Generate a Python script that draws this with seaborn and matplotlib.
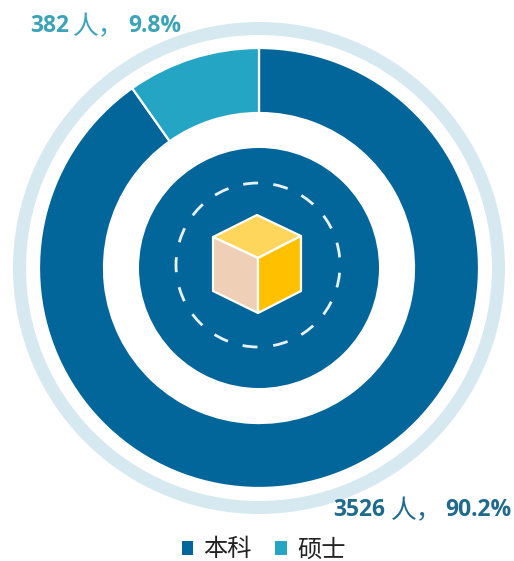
import matplotlib
matplotlib.use("Agg")
import matplotlib.pyplot as plt
import seaborn as sns
from matplotlib.patches import Circle, Polygon

categories = ["本科", "硕士"]
counts = [3526, 382]
percents = ["90.2%", "9.8%"]

DARK, LIGHT = "#03669B", "#25A5C4"
RING = "#D6E9F0"
TXT_DARK, TXT_LIGHT = "#1F6B8F", "#3BA4B8"

sns.set_theme(style="white")
plt.rcParams['font.family'] = ['Noto Sans CJK SC', 'DejaVu Sans']
palette = sns.color_palette([DARK, LIGHT])

W, H = 514, 561
fig = plt.figure(figsize=(W / 100, H / 100), dpi=100, facecolor="white")
ax = fig.add_axes([0, 0, 1, 1])
cx, cy = 259, H - 268

# outer pale ring
ax.add_patch(Circle((cx, cy), 239.5, fc="none", ec=RING, lw=13 * 0.72))

# main donut
wedges, _ = ax.pie(counts, colors=palette, startangle=90, counterclock=False,
                   radius=220, center=(cx, cy), frame=True,
                   wedgeprops=dict(width=65, edgecolor="white", linewidth=1.6))

# centre disc and dashed circle
ax.add_patch(Circle((cx, cy), 120, fc=DARK, ec="none"))
ax.add_patch(Circle((cx - 1, cy + 3), 82, fc="none", ec="#E6F2F6", lw=2.0,
                    linestyle=(5.4, (5.4, 5.5))))

# cube
def P(dx, dy):
    return (cx + dx, cy + dy)
top, tr, br, bot = P(-2, 53), P(42, 32), P(42, -23), P(-1, -45)
bl, tl, mid = P(-46, -23), P(-46, 31), P(-1, 10)
edge = dict(ec="white", lw=1.6, joinstyle="round")
ax.add_patch(Polygon([top, tr, mid, tl], fc="#FFD65C", **edge))
ax.add_patch(Polygon([tl, mid, bot, bl], fc="#EFD0B6", **edge))
ax.add_patch(Polygon([mid, tr, br, bot], fc="#FFC000", **edge))

# data labels
def label(x, y, idx, color):
    ax.text(x, H - y, str(counts[idx]), color=color, fontsize=16.5, fontweight="bold",
            ha="left", va="center", family=["Open Sans", "DejaVu Sans"])
    nx = x + len(str(counts[idx])) * 14.1 + 1
    ax.text(nx, H - y - 1, "人，", color=color, fontsize=18.5, fontweight="light",
            ha="left", va="center")
    ax.text(nx + 55, H - y, percents[idx], color=color, fontsize=16.5, fontweight="bold",
            ha="left", va="center", family=["Open Sans", "DejaVu Sans"])

label(30, 26, 1, TXT_LIGHT)
label(333, 510, 0, TXT_DARK)

leg = ax.legend(wedges, categories, loc="center", bbox_to_anchor=(263.5 / W, 1 - 549.5 / H),
                bbox_transform=fig.transFigure, ncol=2, frameon=False, fontsize=17.5,
                handlelength=0.48, handleheight=0.48, handletextpad=0.42,
                columnspacing=0.95, labelcolor="#222222", borderpad=0, borderaxespad=0)
for h in leg.legend_handles:
    h.set_edgecolor("none")
for t in leg.get_texts():
    t.set_fontweight("light")

ax.set_xlim(0, W)
ax.set_ylim(0, H)
ax.set_aspect("equal")
ax.axis("off")
fig.savefig("out.png", dpi=100, facecolor="white")
